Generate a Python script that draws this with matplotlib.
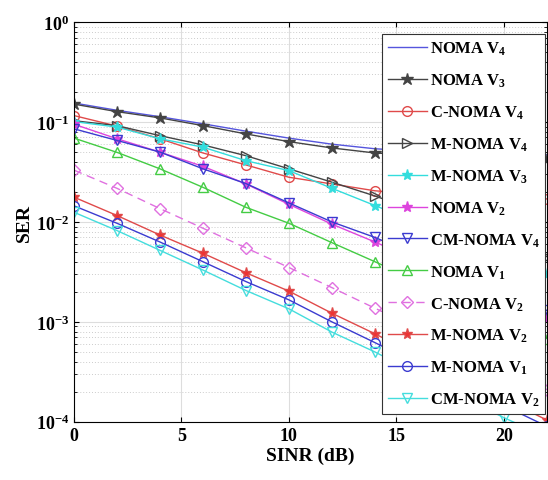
import matplotlib
matplotlib.use("Agg")
import matplotlib.pyplot as plt
from matplotlib.ticker import LogLocator, NullFormatter, MultipleLocator

# ----- data -----
sinr = [0, 2, 4, 6, 8, 10, 12, 14, 16, 18, 20, 22]

noma_v4 = [0.155, 0.131, 0.113, 0.096, 0.081, 0.069, 0.060, 0.054, 0.051, 0.049, 0.048, 0.047]
noma_v3 = [0.151, 0.127, 0.110, 0.092, 0.076, 0.0636, 0.055, 0.049, 0.0465, 0.045, 0.044, 0.043]
c_noma_v4 = [0.116, 0.091, 0.068, 0.049, 0.0372, 0.028, 0.024, 0.0205, 0.019, 0.018, 0.0175, 0.017]
m_noma_v4 = [0.103, 0.092, 0.073, 0.059, 0.046, 0.034, 0.025, 0.0182, 0.0128, 0.009, 0.0064, 0.0045]
m_noma_v3 = [0.101, 0.089, 0.068, 0.056, 0.041, 0.0326, 0.0217, 0.0146, 0.0098, 0.0066, 0.0044, 0.0030]
noma_v2 = [0.095, 0.068, 0.050, 0.036, 0.0240, 0.0150, 0.0095, 0.0063, 0.0041, 0.0027, 0.0017, 0.0011]
cm_noma_v4 = [0.0855, 0.0654, 0.050, 0.034, 0.0242, 0.0155, 0.0100, 0.0070, 0.0046, 0.0030, 0.0020, 0.0013]
noma_v1 = [0.069, 0.0497, 0.034, 0.0222, 0.014, 0.0097, 0.0062, 0.0040, 0.00256, 0.00164, 0.00105, 0.00068]
c_noma_v2 = [0.033, 0.0217, 0.0136, 0.00865, 0.0055, 0.0035, 0.0022, 0.00137, 0.00086, 0.00054, 0.00034, 0.00021]
m_noma_v2 = [0.0177, 0.0116, 0.0074, 0.00486, 0.0031, 0.00203, 0.00122, 0.00076, 0.00046, 0.00028, 0.00017, 0.000104]
m_noma_v1 = [0.0145, 0.0097, 0.0063, 0.0040, 0.00253, 0.00166, 0.00100, 0.00062, 0.00038, 0.000235, 0.000145, 0.00009]
cm_noma_v2 = [0.0125, 0.0082, 0.0052, 0.0033, 0.00206, 0.00135, 0.00079, 0.00050, 0.00030, 0.00018, 0.00011, 0.00007]

plt.rcParams["font.family"] = "Liberation Serif"
plt.rcParams["font.weight"] = "bold"
plt.rcParams["mathtext.fontset"] = "custom"
plt.rcParams["mathtext.rm"] = "Liberation Serif:bold"
plt.rcParams["mathtext.it"] = "Liberation Serif:bold"
plt.rcParams["mathtext.bf"] = "Liberation Serif:bold"
plt.rcParams["mathtext.default"] = "rm"

fig = plt.figure(figsize=(5.48, 4.81), dpi=100)
ax = fig.add_axes([0.135, 0.121, 0.863, 0.831])

lw = 1.0
ms = 7
ax.plot(sinr, noma_v4, color="#5555dd", lw=lw, label="NOMA V$_4$")
ax.plot(sinr, noma_v3, color="#444444", lw=lw, marker="*", ms=9, mfc="#444444", label="NOMA V$_3$")
ax.plot(sinr, c_noma_v4, color="#e04a4a", lw=lw, marker="o", ms=ms, mfc="none", label="C-NOMA V$_4$")
ax.plot(sinr, m_noma_v4, color="#444444", lw=lw, marker=">", ms=ms, mfc="none", label="M-NOMA V$_4$")
ax.plot(sinr, m_noma_v3, color="#33dddd", lw=lw, marker="*", ms=8, mfc="#33dddd", label="M-NOMA V$_3$")
ax.plot(sinr, noma_v2, color="#dd44dd", lw=lw, marker="*", ms=8, mfc="#dd44dd", label="NOMA V$_2$")
ax.plot(sinr, cm_noma_v4, color="#3b3bd0", lw=lw, marker="v", ms=ms, mfc="none", label="CM-NOMA V$_4$")
ax.plot(sinr, noma_v1, color="#44cc44", lw=lw, marker="^", ms=ms, mfc="none", label="NOMA V$_1$")
ax.plot(sinr, c_noma_v2, color="#e070e0", lw=lw, ls=(0, (6, 4)), marker="D", ms=6, mfc="none", label="C-NOMA V$_2$")
ax.plot(sinr, m_noma_v2, color="#e04a4a", lw=lw, marker="*", ms=8, mfc="#ee3333", label="M-NOMA V$_2$")
ax.plot(sinr, m_noma_v1, color="#3b3bd0", lw=lw, marker="o", ms=ms, mfc="none", label="M-NOMA V$_1$")
ax.plot(sinr, cm_noma_v2, color="#44dddd", lw=lw, marker="v", ms=ms, mfc="none", label="CM-NOMA V$_2$")

ax.set_yscale("log")
ax.set_xlim(0, 22)
ax.set_ylim(1e-4, 1)
ax.xaxis.set_major_locator(MultipleLocator(5))
ax.yaxis.set_major_locator(LogLocator(base=10, numticks=10))
ax.yaxis.set_minor_locator(LogLocator(base=10, subs=range(2, 10), numticks=10))
ax.yaxis.set_minor_formatter(NullFormatter())

ax.grid(True, which="major", color="#dddddd", lw=0.8)
ax.grid(True, which="minor", axis="y", color="#cccccc", lw=0.7, ls=(0, (1, 2)))
ax.tick_params(which="both", direction="in", top=True, right=True, labelsize=13)
for lab in ax.get_xticklabels() + ax.get_yticklabels():
    lab.set_fontweight("bold")

ax.set_xlabel("SINR (dB)", fontsize=14, fontweight="bold", labelpad=2)
ax.set_ylabel("SER", fontsize=14, fontweight="bold", labelpad=2)

leg = ax.legend(loc="upper right", bbox_to_anchor=(0.997, 0.97), borderaxespad=0.0,
                fontsize=12, handlelength=2.3, handletextpad=0.2, borderpad=0.35,
                labelspacing=0.87, fancybox=False, framealpha=1.0, edgecolor="#333333")
leg.get_frame().set_linewidth(0.8)

fig.savefig("out.png", dpi=100)
